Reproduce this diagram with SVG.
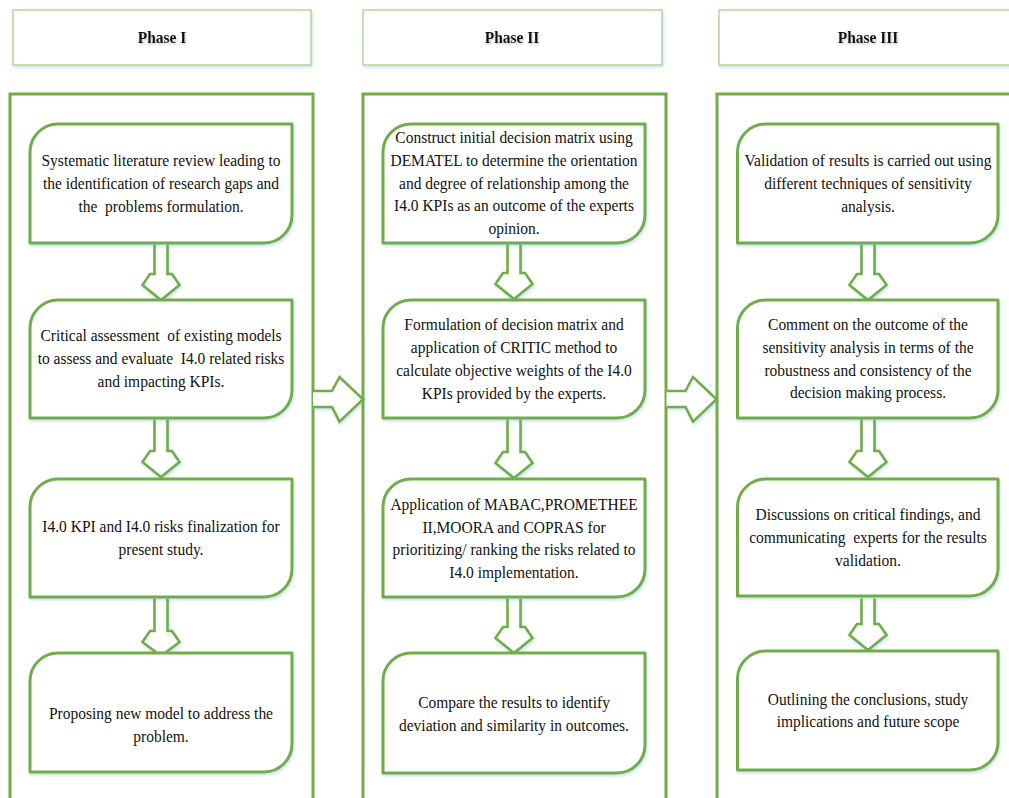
<svg xmlns="http://www.w3.org/2000/svg" width="1009" height="798" viewBox="0 0 1009 798">
  <defs>
    <filter id="soft" x="-10%" y="-10%" width="120%" height="130%">
      <feDropShadow dx="1" dy="2" stdDeviation="1.4" flood-color="#5b9bd5" flood-opacity="0.3"/>
    </filter>
    <filter id="tshadow" x="-10%" y="-30%" width="120%" height="160%">
      <feDropShadow dx="1" dy="1.5" stdDeviation="1" flood-color="#7f7f7f" flood-opacity="0.45"/>
    </filter>
  </defs>
  <style>
    .head { fill: #ffffff; stroke: #a9d18e; stroke-width: 1.3; }
    .lane { fill: none; stroke: #70ad47; stroke-width: 3; }
    .node { fill: #ffffff; stroke: #70ad47; stroke-width: 3; stroke-linejoin: round; }
    .arrow { fill: #ffffff; stroke: #70ad47; stroke-width: 2.6; stroke-linejoin: miter; }
    .txt { font-family: "Liberation Serif", "Times New Roman", serif; font-size: 17.5px; fill: #111111; text-anchor: middle; }
    .htxt { font-family: "Liberation Serif", "Times New Roman", serif; font-size: 17.5px; font-weight: bold; fill: #111111; text-anchor: middle; }
  </style>

  <rect width="1009" height="798" fill="#ffffff"/>

  <!-- phase columns -->
  <g id="lanes">
    <rect class="lane" x="10" y="94" width="303" height="740"/>
    <rect class="lane" x="363" y="94" width="303" height="740"/>
    <rect class="lane" x="717" y="94" width="303" height="740"/>
  </g>

  <!-- phase headers -->
  <g id="header-phase1">
    <rect class="head" x="13" y="10" width="298" height="55" filter="url(#soft)"/>
    <g transform="translate(162,0) scale(0.885,1)"><text class="htxt" x="0" y="43" filter="url(#tshadow)">Phase I</text></g>
  </g>
  <g id="header-phase2">
    <rect class="head" x="363" y="10" width="299" height="55" filter="url(#soft)"/>
    <g transform="translate(512,0) scale(0.885,1)"><text class="htxt" x="0" y="43" filter="url(#tshadow)">Phase II</text></g>
  </g>
  <g id="header-phase3">
    <rect class="head" x="719" y="10" width="298" height="55" filter="url(#soft)"/>
    <g transform="translate(868,0) scale(0.885,1)"><text class="htxt" x="0" y="43" filter="url(#tshadow)">Phase III</text></g>
  </g>

  <!-- block arrows -->
  <g id="connectors" filter="url(#soft)">
    <!-- Phase I -->
    <path class="arrow" d="M154.5,244.5 V274 H150 L142.5,285 L161,300 L179.5,285 L172,274 H167.5 V244.5"/>
    <path class="arrow" d="M154.5,419.5 V451 H150 L142.5,462 L161,477 L179.5,462 L172,451 H167.5 V419.5"/>
    <path class="arrow" d="M154.5,598.5 V631 H150 L142.5,642 L161,656 L179.5,642 L172,631 H167.5 V598.5"/>
    <!-- Phase II -->
    <path class="arrow" d="M507.5,244.5 V273 H503 L495.5,284 L514,299 L532.5,284 L525,273 H520.5 V244.5"/>
    <path class="arrow" d="M507.5,419.5 V452 H503 L495.5,463 L514,478 L532.5,463 L525,452 H520.5 V419.5"/>
    <path class="arrow" d="M507.5,598.5 V627 H503 L495.5,638 L514,653 L532.5,638 L525,627 H520.5 V598.5"/>
    <!-- Phase III -->
    <path class="arrow" d="M861.5,244.5 V274 H857 L849.5,285 L868,300 L886.5,285 L879,274 H874.5 V244.5"/>
    <path class="arrow" d="M861.5,419.5 V451 H857 L849.5,462 L868,477 L886.5,462 L879,451 H874.5 V419.5"/>
    <path class="arrow" d="M861.5,598.5 V624 H857 L849.5,635 L868,650 L886.5,635 L879,624 H874.5 V598.5"/>
    <!-- between phases -->
    <path class="arrow" d="M313,391 H332 L339.5,377 L363,399.3 L339.5,421.7 L332,407 H313"/>
    <path class="arrow" d="M666.5,391 H685.5 L693,377 L716.5,399.3 L693,421.7 L685.5,407 H666.5"/>
  </g>

  <!-- Phase I steps -->
  <g id="p1-literature-review">
    <path class="node" filter="url(#soft)" d="M58,124 H292 V215 A28,28 0 0 1 264,243 H30 V152 A28,28 0 0 1 58,124 Z"/>
    <g transform="translate(161,0) scale(0.885,1)">
      <text class="txt" x="0" y="166">Systematic literature review leading to</text>
      <text class="txt" x="0" y="189">the identification of research gaps and</text>
      <text class="txt" x="0" y="212" xml:space="preserve">the  problems formulation.</text>
    </g>
  </g>
  <g id="p1-assessment">
    <path class="node" filter="url(#soft)" d="M58,300 H292 V390 A28,28 0 0 1 264,418 H30 V328 A28,28 0 0 1 58,300 Z"/>
    <g transform="translate(161,0) scale(0.885,1)">
      <text class="txt" x="0" y="341.5" xml:space="preserve">Critical assessment  of existing models</text>
      <text class="txt" x="0" y="364.5" xml:space="preserve">to assess and evaluate  I4.0 related risks</text>
      <text class="txt" x="0" y="387">and impacting KPIs.</text>
    </g>
  </g>
  <g id="p1-finalization">
    <path class="node" filter="url(#soft)" d="M58,479 H292 V569 A28,28 0 0 1 264,597 H30 V507 A28,28 0 0 1 58,479 Z"/>
    <g transform="translate(161,0) scale(0.885,1)">
      <text class="txt" x="0" y="532">I4.0 KPI and I4.0 risks finalization for</text>
      <text class="txt" x="0" y="555">present study.</text>
    </g>
  </g>
  <g id="p1-new-model">
    <path class="node" filter="url(#soft)" d="M58,653 H292 V744 A28,28 0 0 1 264,772 H30 V681 A28,28 0 0 1 58,653 Z"/>
    <g transform="translate(161,0) scale(0.885,1)">
      <text class="txt" x="0" y="719">Proposing new model to address the</text>
      <text class="txt" x="0" y="742">problem.</text>
    </g>
  </g>

  <!-- Phase II steps -->
  <g id="p2-dematel">
    <path class="node" filter="url(#soft)" d="M411,124 H645 V215 A28,28 0 0 1 617,243 H383 V152 A28,28 0 0 1 411,124 Z"/>
    <g transform="translate(514,0) scale(0.885,1)">
      <text class="txt" x="0" y="143">Construct initial decision matrix using</text>
      <text class="txt" x="0" y="166">DEMATEL to determine the orientation</text>
      <text class="txt" x="0" y="189">and degree of relationship among the</text>
      <text class="txt" x="0" y="211.5">I4.0 KPIs as an outcome of the experts</text>
      <text class="txt" x="0" y="234">opinion.</text>
    </g>
  </g>
  <g id="p2-critic">
    <path class="node" filter="url(#soft)" d="M411,300 H645 V390 A28,28 0 0 1 617,418 H383 V328 A28,28 0 0 1 411,300 Z"/>
    <g transform="translate(514,0) scale(0.885,1)">
      <text class="txt" x="0" y="330.5">Formulation of decision matrix and</text>
      <text class="txt" x="0" y="353">application of CRITIC method to</text>
      <text class="txt" x="0" y="376">calculate objective weights of the I4.0</text>
      <text class="txt" x="0" y="399">KPIs provided by the experts.</text>
    </g>
  </g>
  <g id="p2-ranking">
    <path class="node" filter="url(#soft)" d="M411,479 H645 V569 A28,28 0 0 1 617,597 H383 V507 A28,28 0 0 1 411,479 Z"/>
    <g transform="translate(514,0) scale(0.885,1)">
      <text class="txt" x="0" y="510">Application of MABAC,PROMETHEE</text>
      <text class="txt" x="0" y="532.7">II,MOORA and COPRAS for</text>
      <text class="txt" x="0" y="555.5">prioritizing/ ranking the risks related to</text>
      <text class="txt" x="0" y="578">I4.0 implementation.</text>
    </g>
  </g>
  <g id="p2-compare">
    <path class="node" filter="url(#soft)" d="M411,653 H645 V745 A28,28 0 0 1 617,773 H383 V681 A28,28 0 0 1 411,653 Z"/>
    <g transform="translate(514,0) scale(0.885,1)">
      <text class="txt" x="0" y="708">Compare the results to identify</text>
      <text class="txt" x="0" y="730.7">deviation and similarity in outcomes.</text>
    </g>
  </g>

  <!-- Phase III steps -->
  <g id="p3-validation">
    <path class="node" filter="url(#soft)" d="M765.5,124 H998 V215 A28,28 0 0 1 970,243 H737.5 V152 A28,28 0 0 1 765.5,124 Z"/>
    <g transform="translate(868,0) scale(0.885,1)">
      <text class="txt" x="0" y="166.5">Validation of results is carried out using</text>
      <text class="txt" x="0" y="189">different techniques of sensitivity</text>
      <text class="txt" x="0" y="212">analysis.</text>
    </g>
  </g>
  <g id="p3-robustness">
    <path class="node" filter="url(#soft)" d="M765.5,300 H998 V390 A28,28 0 0 1 970,418 H737.5 V328 A28,28 0 0 1 765.5,300 Z"/>
    <g transform="translate(868,0) scale(0.885,1)">
      <text class="txt" x="0" y="330">Comment on the outcome of the</text>
      <text class="txt" x="0" y="353">sensitivity analysis in terms of the</text>
      <text class="txt" x="0" y="376">robustness and consistency of the</text>
      <text class="txt" x="0" y="398.5">decision making process.</text>
    </g>
  </g>
  <g id="p3-discussion">
    <path class="node" filter="url(#soft)" d="M765.5,479 H998 V568 A28,28 0 0 1 970,596 H737.5 V507 A28,28 0 0 1 765.5,479 Z"/>
    <g transform="translate(868,0) scale(0.885,1)">
      <text class="txt" x="0" y="520">Discussions on critical findings, and</text>
      <text class="txt" x="0" y="543" xml:space="preserve">communicating  experts for the results</text>
      <text class="txt" x="0" y="566">validation.</text>
    </g>
  </g>
  <g id="p3-conclusions">
    <path class="node" filter="url(#soft)" d="M765.5,651 H998 V742 A28,28 0 0 1 970,770 H737.5 V679 A28,28 0 0 1 765.5,651 Z"/>
    <g transform="translate(868,0) scale(0.885,1)">
      <text class="txt" x="0" y="705">Outlining the conclusions, study</text>
      <text class="txt" x="0" y="727">implications and future scope</text>
    </g>
  </g>
</svg>
